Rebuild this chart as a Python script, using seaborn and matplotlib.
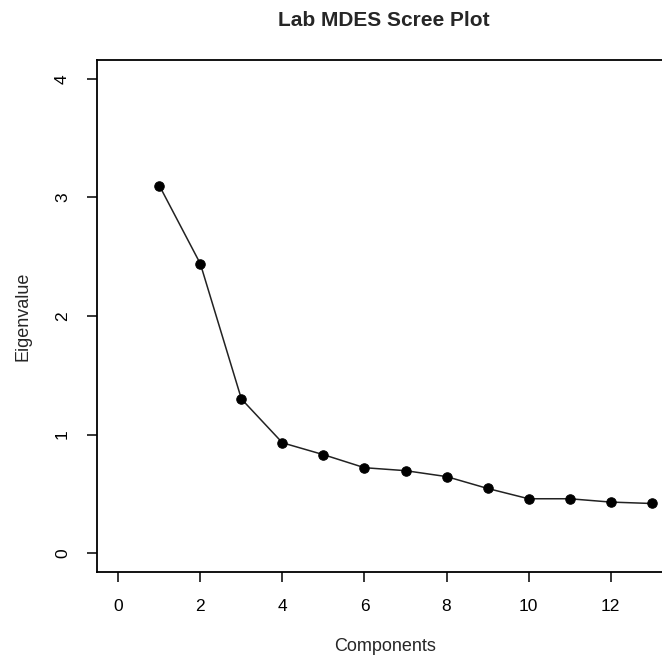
import matplotlib
matplotlib.use("Agg")
import matplotlib.pyplot as plt
import seaborn as sns
import pandas as pd

components = [1, 2, 3, 4, 5, 6, 7, 8, 9, 10, 11, 12, 13]
eigenvalues = [3.10, 2.44, 1.30, 0.93, 0.83, 0.72, 0.695, 0.645, 0.545, 0.458, 0.458, 0.43, 0.418]
x_ticks = [0, 2, 4, 6, 8, 10, 12]
y_ticks = [0, 1, 2, 3, 4]

sns.set_style("ticks")
plt.rcParams['font.family'] = ['Liberation Sans', 'DejaVu Sans']

df = pd.DataFrame({"Components": components, "Eigenvalue": eigenvalues})

fig = plt.figure(figsize=(6.62, 6.60), dpi=100)
ax = fig.add_axes([97/662, 1 - 572/660, (673 - 97)/662, (572 - 60)/660])

sns.lineplot(data=df, x="Components", y="Eigenvalue", ax=ax, color="#222222",
             linewidth=1.1, marker="o", markersize=6.8, markerfacecolor="black",
             markeredgecolor="black")

ax.set_xlim(-0.52, 13.52)
ax.set_ylim(-0.16, 4.16)
ax.set_xticks(x_ticks)
ax.set_yticks(y_ticks)
ax.set_xticklabels([str(t) for t in x_ticks], fontsize=12.5)
ax.set_yticklabels([str(t) for t in y_ticks], fontsize=12.5, rotation=90, va="center")
ax.tick_params(axis="both", direction="out", length=7, width=1.1, colors="black", pad=12.5)
for s in ax.spines.values():
    s.set_linewidth(1.3)
    s.set_color("black")
    s.set_visible(True)

ax.set_xlabel("Components", fontsize=13, labelpad=17)
ax.set_ylabel("Eigenvalue", fontsize=13, labelpad=17)
fig.text(383.5/662, 1 - 20/660, "Lab MDES Scree Plot", ha="center", va="center",
         fontsize=15, fontweight="bold")

fig.savefig("out.png", dpi=100)
